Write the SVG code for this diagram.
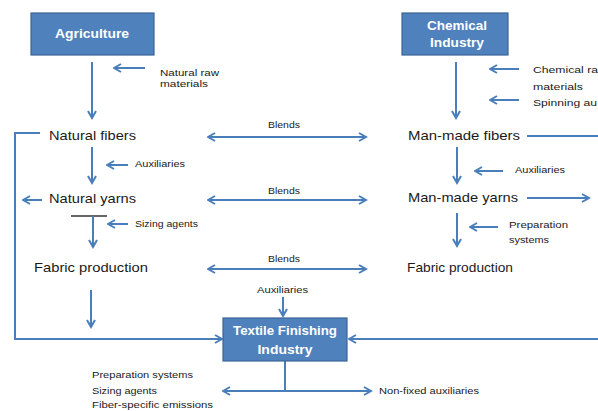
<svg xmlns="http://www.w3.org/2000/svg" width="598" height="411" viewBox="0 0 598 411">
<style>
.box{fill:#4f81bd;stroke:#3a6496;stroke-width:1.2}
.bt{font-family:"Liberation Sans",Arial,sans-serif;font-weight:bold;font-size:13px;fill:#fff;text-anchor:middle}
.lbl{font-family:"Liberation Sans",Arial,sans-serif;font-size:13px;fill:#1a1a1a}
.sm{font-family:"Liberation Sans",Arial,sans-serif;font-size:9.5px;fill:#1a1a1a}
.c{stroke:#4a7ebb;stroke-width:2;fill:none}
.a{marker-end:url(#ah)}
.d{marker-start:url(#ah);marker-end:url(#ah)}
</style>
<defs>
<marker id="ah" viewBox="0 0 10 10" markerUnits="userSpaceOnUse" markerWidth="10" markerHeight="10" refX="8.5" refY="5" orient="auto-start-reverse">
<path d="M1.5,1 L8.5,5 L1.5,9" fill="none" stroke="#4a7ebb" stroke-width="2"/>
</marker>
</defs>
<rect width="598" height="411" fill="#fff"/>
<g id="connectors">
<line class="c a" x1="92" y1="62" x2="92" y2="118"/>
<line class="c a" x1="145" y1="68" x2="114" y2="68"/>
<line class="c a" x1="456" y1="62" x2="456" y2="118"/>
<line class="c a" x1="519" y1="69" x2="490" y2="69"/>
<line class="c a" x1="519" y1="100" x2="490" y2="100"/>
<line class="c d" x1="208" y1="137" x2="366" y2="137"/>
<line class="c" x1="527" y1="136" x2="598" y2="136"/>
<line class="c a" x1="92" y1="147" x2="92" y2="183"/>
<line class="c a" x1="128" y1="165" x2="107" y2="165"/>
<line class="c a" x1="42" y1="200" x2="23" y2="200"/>
<line x1="71" y1="216" x2="107" y2="216" stroke="#333" stroke-width="1.3"/>
<line class="c a" x1="93" y1="216" x2="93" y2="247"/>
<line class="c a" x1="128" y1="224" x2="108" y2="224"/>
<line class="c d" x1="208" y1="200" x2="366" y2="200"/>
<line class="c a" x1="457" y1="147" x2="457" y2="183"/>
<line class="c a" x1="503" y1="171" x2="475" y2="171"/>
<line class="c a" x1="527" y1="198" x2="589" y2="198"/>
<line class="c a" x1="457" y1="213" x2="457" y2="246"/>
<line class="c a" x1="498" y1="227" x2="470" y2="227"/>
<line class="c d" x1="208" y1="269" x2="366" y2="269"/>
<line class="c a" x1="91" y1="290" x2="91" y2="327"/>
<line class="c a" x1="283" y1="297" x2="283" y2="316"/>
<polyline class="c a" points="40,133 15,133 15,339 222,339"/>
<line class="c a" x1="598" y1="339" x2="349" y2="339"/>
<line class="c" x1="285" y1="361" x2="285" y2="391"/>
<line class="c a" x1="285" y1="391" x2="223" y2="391"/>
<line class="c a" x1="285" y1="391" x2="371" y2="391"/>
</g>
<g id="agriculture">
<rect class="box" x="31" y="13" width="123" height="42"/>
<text class="bt" x="92" y="38" textLength="74" lengthAdjust="spacingAndGlyphs">Agriculture</text>
</g>
<g id="chemical-industry">
<rect class="box" x="402" y="13" width="106" height="42"/>
<text class="bt" x="457" y="30" textLength="60" lengthAdjust="spacingAndGlyphs">Chemical</text>
<text class="bt" x="457" y="47" textLength="54" lengthAdjust="spacingAndGlyphs">Industry</text>
</g>
<g id="textile-finishing">
<rect class="box" x="223" y="318" width="124" height="43"/>
<text class="bt" x="285" y="335" textLength="104" lengthAdjust="spacingAndGlyphs">Textile Finishing</text>
<text class="bt" x="285" y="354" textLength="55" lengthAdjust="spacingAndGlyphs">Industry</text>
</g>
<g id="natural-fibers"><text class="lbl" x="49" y="140" textLength="87" lengthAdjust="spacingAndGlyphs">Natural fibers</text></g>
<g id="natural-yarns"><text class="lbl" x="49" y="203" textLength="87" lengthAdjust="spacingAndGlyphs">Natural yarns</text></g>
<g id="fabric-production-left"><text class="lbl" x="34" y="272" textLength="114" lengthAdjust="spacingAndGlyphs">Fabric production</text></g>
<g id="man-made-fibers"><text class="lbl" x="408" y="140" textLength="112" lengthAdjust="spacingAndGlyphs">Man-made fibers</text></g>
<g id="man-made-yarns"><text class="lbl" x="408" y="202" textLength="110" lengthAdjust="spacingAndGlyphs">Man-made yarns</text></g>
<g id="fabric-production-right"><text class="lbl" x="407" y="272" textLength="106" lengthAdjust="spacingAndGlyphs">Fabric production</text></g>
<g id="labels">
<text class="sm" x="160" y="76" textLength="59" lengthAdjust="spacingAndGlyphs">Natural raw</text>
<text class="sm" x="160" y="87" textLength="48" lengthAdjust="spacingAndGlyphs">materials</text>
<text class="sm" x="533" y="73" textLength="65" lengthAdjust="spacingAndGlyphs">Chemical ra</text>
<text class="sm" x="533" y="90" textLength="50" lengthAdjust="spacingAndGlyphs">materials</text>
<text class="sm" x="533" y="106" textLength="64" lengthAdjust="spacingAndGlyphs">Spinning au</text>
<text class="sm" x="268" y="128" textLength="32" lengthAdjust="spacingAndGlyphs">Blends</text>
<text class="sm" x="268" y="194" textLength="32" lengthAdjust="spacingAndGlyphs">Blends</text>
<text class="sm" x="268" y="262" textLength="32" lengthAdjust="spacingAndGlyphs">Blends</text>
<text class="sm" x="135" y="167" textLength="50" lengthAdjust="spacingAndGlyphs">Auxiliaries</text>
<text class="sm" x="135" y="227" textLength="63" lengthAdjust="spacingAndGlyphs">Sizing agents</text>
<text class="sm" x="515" y="173" textLength="50" lengthAdjust="spacingAndGlyphs">Auxiliaries</text>
<text class="sm" x="509" y="228" textLength="59" lengthAdjust="spacingAndGlyphs">Preparation</text>
<text class="sm" x="509" y="243" textLength="40" lengthAdjust="spacingAndGlyphs">systems</text>
<text class="sm" x="257" y="293" textLength="51" lengthAdjust="spacingAndGlyphs">Auxiliaries</text>
<text class="sm" x="92" y="378" textLength="101" lengthAdjust="spacingAndGlyphs">Preparation systems</text>
<text class="sm" x="92" y="394" textLength="65" lengthAdjust="spacingAndGlyphs">Sizing agents</text>
<text class="sm" x="92" y="408" textLength="121" lengthAdjust="spacingAndGlyphs">Fiber-specific emissions</text>
<text class="sm" x="379" y="394" textLength="100" lengthAdjust="spacingAndGlyphs">Non-fixed auxiliaries</text>
</g>
</svg>
